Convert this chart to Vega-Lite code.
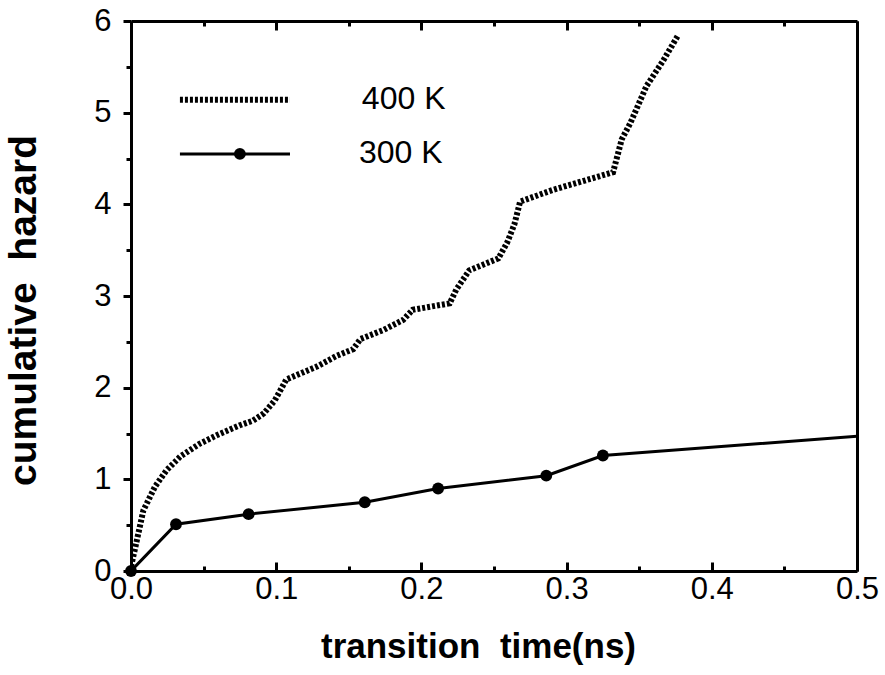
{
  "$schema": "https://vega.github.io/schema/vega-lite/v6.json",
  "width": 726,
  "height": 550,
  "autosize": "none",
  "padding": {"left": 131, "top": 21, "right": 28, "bottom": 104},
  "background": "white",
  "config": {
    "view": {"stroke": null},
    "font": "Liberation Sans",
    "axis": {"grid": false, "domainColor": "black", "tickColor": "black", "domainWidth": 3, "tickWidth": 3, "labelColor": "black", "titleColor": "black", "labelFont": "Liberation Sans", "titleFont": "Liberation Sans"}
  },
  "datasets": {
    "k400": [
      {"t": 0.0, "h": 0.05}, {"t": 0.003, "h": 0.26}, {"t": 0.0085, "h": 0.66}, {"t": 0.0165, "h": 0.92},
      {"t": 0.0245, "h": 1.10}, {"t": 0.034, "h": 1.25}, {"t": 0.0475, "h": 1.39}, {"t": 0.059, "h": 1.48},
      {"t": 0.075, "h": 1.59}, {"t": 0.084, "h": 1.64}, {"t": 0.0915, "h": 1.72}, {"t": 0.099, "h": 1.86},
      {"t": 0.107, "h": 2.09}, {"t": 0.113, "h": 2.13}, {"t": 0.128, "h": 2.23}, {"t": 0.142, "h": 2.35},
      {"t": 0.153, "h": 2.42}, {"t": 0.158, "h": 2.53}, {"t": 0.174, "h": 2.63}, {"t": 0.1875, "h": 2.74},
      {"t": 0.194, "h": 2.85}, {"t": 0.2195, "h": 2.92}, {"t": 0.224, "h": 3.07}, {"t": 0.233, "h": 3.28},
      {"t": 0.253, "h": 3.41}, {"t": 0.259, "h": 3.58}, {"t": 0.264, "h": 3.78}, {"t": 0.268, "h": 4.03},
      {"t": 0.291, "h": 4.16}, {"t": 0.332, "h": 4.35}, {"t": 0.338, "h": 4.71}, {"t": 0.344, "h": 4.89},
      {"t": 0.355, "h": 5.29}, {"t": 0.3666, "h": 5.57}, {"t": 0.377, "h": 5.85}
    ],
    "k300": [
      {"t": 0.0, "h": 0.0}, {"t": 0.031, "h": 0.51}, {"t": 0.081, "h": 0.62}, {"t": 0.161, "h": 0.75},
      {"t": 0.2115, "h": 0.9}, {"t": 0.286, "h": 1.04}, {"t": 0.325, "h": 1.26}, {"t": 0.5, "h": 1.47}
    ],
    "legendLines": [
      {"series": "400 K", "t1": 0.0337, "t2": 0.1095, "h": 5.14, "tl": 0.159, "hl": 5.15},
      {"series": "300 K", "t1": 0.0337, "t2": 0.1095, "h": 4.55, "tl": 0.157, "hl": 4.56}
    ],
    "legendMarker": [{"t": 0.075, "h": 4.55}]
  },
  "layer": [
    {
      "data": {"name": "k400"},
      "mark": {"type": "line", "stroke": "black", "strokeWidth": 6, "strokeDash": [3, 2], "clip": true},
      "encoding": {
        "x": {"field": "t", "type": "quantitative", "scale": {"domain": [0, 0.5], "nice": false, "zero": false},
          "axis": {"orient": "bottom", "values": [0, 0.1, 0.2, 0.3, 0.4, 0.5], "format": ".1f", "tickSize": -9, "labelFontSize": 31, "labelPadding": 12, "labelFlush": false, "title": "transition\u00a0\u00a0time(ns)", "titleFontSize": 35, "titleFontWeight": "bold", "titleAlign": "center", "titleBaseline": "alphabetic", "titleX": 347, "titleY": 86}},
        "y": {"field": "h", "type": "quantitative", "scale": {"domain": [0, 6], "nice": false, "zero": false},
          "axis": {"orient": "left", "values": [0, 1, 2, 3, 4, 5, 6], "format": "d", "tickSize": 8, "labelFontSize": 31, "labelPadding": 12, "labelFlush": false, "title": "cumulative\u00a0\u00a0hazard", "titleFontSize": 39, "titleFontWeight": "bold", "titleAngle": -90, "titleAlign": "center", "titleBaseline": "alphabetic", "titleX": -96, "titleY": 289}}
      }
    },
    {
      "data": {"name": "k300"},
      "mark": {"type": "line", "stroke": "black", "strokeWidth": 3, "clip": true},
      "encoding": {
        "x": {"field": "t", "type": "quantitative", "scale": {"domain": [0, 0.5], "nice": false, "zero": false},
          "axis": {"orient": "bottom", "values": [0.05, 0.15, 0.25, 0.35, 0.45], "tickSize": -5, "labels": false, "domain": false, "title": null}},
        "y": {"field": "h", "type": "quantitative", "scale": {"domain": [0, 6], "nice": false, "zero": false},
          "axis": {"orient": "left", "values": [0.5, 1.5, 2.5, 3.5, 4.5, 5.5], "tickSize": 5, "labels": false, "domain": false, "title": null}}
      }
    },
    {
      "data": {"name": "k300"},
      "transform": [{"filter": "datum.t < 0.5"}],
      "mark": {"type": "point", "shape": "circle", "filled": true, "fill": "black", "opacity": 1, "size": 140},
      "encoding": {
        "x": {"field": "t", "type": "quantitative", "scale": {"domain": [0, 0.5], "nice": false, "zero": false},
          "axis": {"orient": "top", "values": [0, 0.1, 0.2, 0.3, 0.4, 0.5], "tickSize": -9, "labels": false, "title": null}},
        "y": {"field": "h", "type": "quantitative", "scale": {"domain": [0, 6], "nice": false, "zero": false},
          "axis": {"orient": "right", "values": [], "ticks": false, "labels": false, "title": null}}
      }
    },
    {
      "data": {"name": "legendLines"},
      "transform": [{"filter": "datum.series == '400 K'"}],
      "mark": {"type": "rule", "stroke": "black", "strokeWidth": 6, "strokeDash": [3, 2]},
      "encoding": {
        "x": {"field": "t1", "type": "quantitative", "scale": {"domain": [0, 0.5], "nice": false, "zero": false},
          "axis": {"orient": "top", "values": [0.05, 0.15, 0.25, 0.35, 0.45], "tickSize": -5, "labels": false, "domain": false, "title": null}},
        "x2": {"field": "t2"},
        "y": {"field": "h", "type": "quantitative", "scale": {"domain": [0, 6], "nice": false, "zero": false}, "axis": null}
      }
    },
    {
      "data": {"name": "legendLines"},
      "transform": [{"filter": "datum.series == '300 K'"}],
      "mark": {"type": "rule", "stroke": "black", "strokeWidth": 3},
      "encoding": {
        "x": {"field": "t1", "type": "quantitative", "scale": {"domain": [0, 0.5], "nice": false, "zero": false}, "axis": null},
        "x2": {"field": "t2"},
        "y": {"field": "h", "type": "quantitative", "scale": {"domain": [0, 6], "nice": false, "zero": false}, "axis": null}
      }
    },
    {
      "data": {"name": "legendMarker"},
      "mark": {"type": "point", "shape": "circle", "filled": true, "fill": "black", "opacity": 1, "size": 140},
      "encoding": {
        "x": {"field": "t", "type": "quantitative", "scale": {"domain": [0, 0.5], "nice": false, "zero": false}, "axis": null},
        "y": {"field": "h", "type": "quantitative", "scale": {"domain": [0, 6], "nice": false, "zero": false}, "axis": null}
      }
    },
    {
      "data": {"name": "legendLines"},
      "mark": {"type": "text", "align": "left", "baseline": "middle", "fontSize": 32, "font": "Liberation Sans", "fill": "black"},
      "encoding": {
        "x": {"field": "tl", "type": "quantitative", "scale": {"domain": [0, 0.5], "nice": false, "zero": false}, "axis": null},
        "y": {"field": "hl", "type": "quantitative", "scale": {"domain": [0, 6], "nice": false, "zero": false}, "axis": null},
        "text": {"field": "series", "type": "nominal"}
      }
    }
  ],
  "resolve": {"axis": {"x": "independent", "y": "independent"}}
}
